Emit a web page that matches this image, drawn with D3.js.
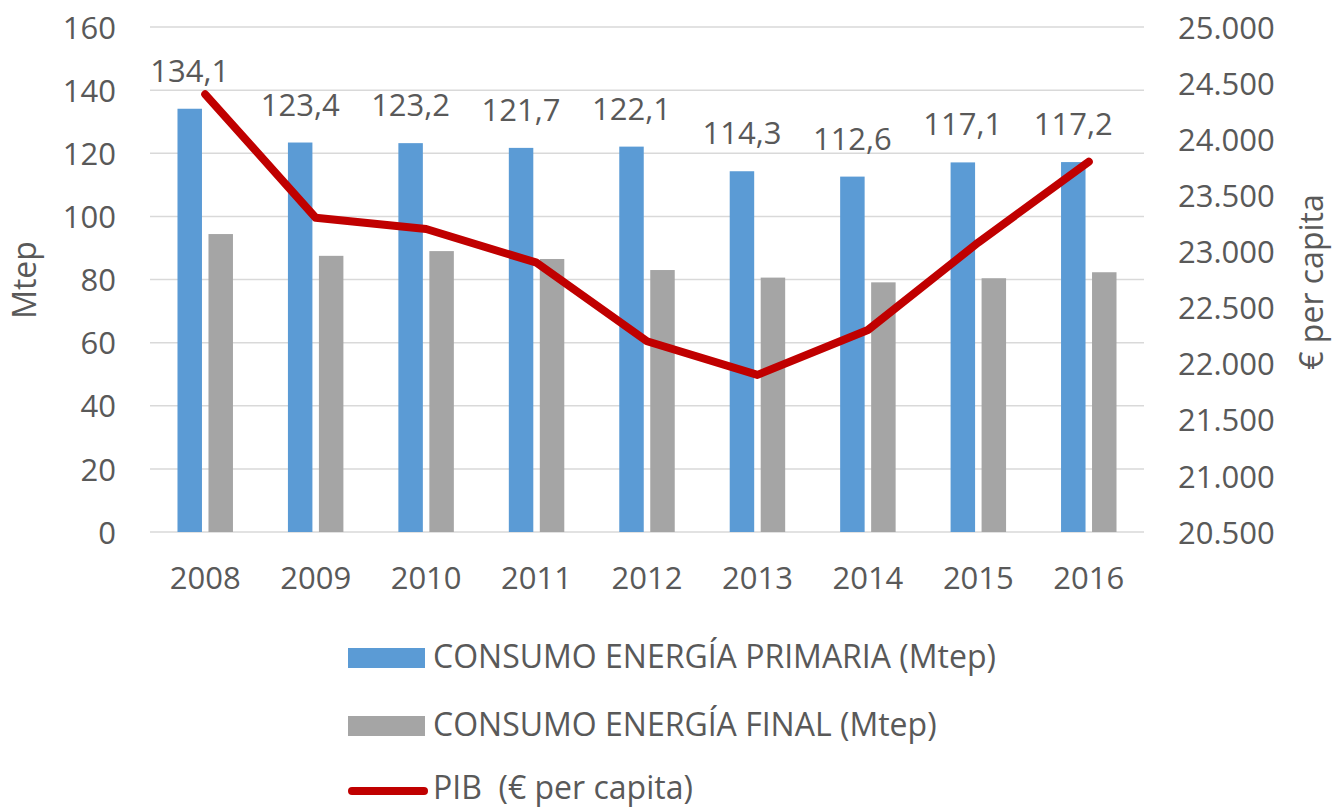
<!DOCTYPE html>
<html><head><meta charset="utf-8">
<script src="https://cdn.jsdelivr.net/npm/d3@7"></script>
<style>body{margin:0;background:#fff}svg{display:block}text{font-family:"Open Sans",sans-serif;fill:#595959}</style>
</head><body>
<svg id="c" width="1335" height="808"></svg>
<script>
const years = ["2008","2009","2010","2011","2012","2013","2014","2015","2016"];
const primaria = [134.1,123.4,123.2,121.7,122.1,114.3,112.6,117.1,117.2];
const finalE = [94.4,87.5,89.0,86.5,83.0,80.6,79.1,80.4,82.3];
const pib = [24400,23300,23200,22900,22200,21900,22300,23080,23800];
const leftTicks = [0,20,40,60,80,100,120,140,160];
const rightTicks = [20500,21000,21500,22000,22500,23000,23500,24000,24500,25000];
const seriesNames = ["CONSUMO ENERGÍA PRIMARIA (Mtep)","CONSUMO ENERGÍA FINAL (Mtep)","PIB  (€ per capita)"];
const colors = ["#5B9BD5","#A5A5A5","#C00000"];

const svg = d3.select("#c");
const X0=150, X1=1144, Y0=27, Y1=532;
const FS = "31px";
const x = d3.scaleBand().domain(years).range([X0,X1]).padding(0);
const xi = d3.scaleBand().domain(["p","f"]).range([0,x.bandwidth()]).paddingInner(0.21).paddingOuter(0.887);
const y = d3.scaleLinear().domain([0,160]).range([Y1,Y0]);
const y2 = d3.scaleLinear().domain([20500,25000]).range([Y1,Y0]);

// gridlines
svg.append("g").selectAll("line").data(leftTicks).join("line")
  .attr("x1",X0).attr("x2",X1).attr("y1",d=>y(d)).attr("y2",d=>y(d))
  .attr("stroke","#D9D9D9").attr("stroke-width",1.5);

// left axis
const la = svg.append("g").attr("transform",`translate(${X0-34},0)`)
  .call(d3.axisLeft(y).tickValues(leftTicks).tickSize(0).tickPadding(0));
la.select(".domain").remove();
la.selectAll("text").style("font-size",FS).attr("fill","#595959").attr("dy","0.36em");

// right axis
const fmt = d => d3.format(",")(d).replace(/,/g,".");
const ra = svg.append("g").attr("transform",`translate(${X1+34},0)`)
  .call(d3.axisRight(y2).tickValues(rightTicks).tickFormat(fmt).tickSize(0).tickPadding(0));
ra.select(".domain").remove();
ra.selectAll("text").style("font-size",FS).attr("fill","#595959").attr("dy","0.36em");

// x axis
const xa = svg.append("g").attr("transform",`translate(0,${Y1})`)
  .call(d3.axisBottom(x).tickSize(0).tickPadding(0));
xa.select(".domain").remove();
xa.selectAll("text").style("font-size",FS).attr("fill","#595959").attr("y",57).attr("dy",0);

// bars
const g = svg.append("g");
g.selectAll("rect.p").data(years).join("rect").attr("class","p")
  .attr("x",(d)=>x(d)+xi("p")).attr("width",xi.bandwidth())
  .attr("y",(d,i)=>y(primaria[i])).attr("height",(d,i)=>y(0)-y(primaria[i]))
  .attr("fill",colors[0]);
g.selectAll("rect.f").data(years).join("rect").attr("class","f")
  .attr("x",(d)=>x(d)+xi("f")).attr("width",xi.bandwidth())
  .attr("y",(d,i)=>y(finalE[i])).attr("height",(d,i)=>y(0)-y(finalE[i]))
  .attr("fill",colors[1]);

// labels
g.selectAll("text.lab").data(years).join("text").attr("class","lab")
  .attr("x",d=>x(d)+xi("p")+xi.bandwidth()/2)
  .attr("y",(d,i)=>y(primaria[i])-27)
  .attr("text-anchor","middle").style("font-size",FS)
  .text((d,i)=>d3.format(".1f")(primaria[i]).replace(".",","));

// line
const line = d3.line().x((d,i)=>x(years[i])+x.bandwidth()/2).y(d=>y2(d));
svg.append("path").datum(pib).attr("d",line).attr("fill","none")
  .attr("stroke",colors[2]).attr("stroke-width",8).attr("stroke-linecap","round").attr("stroke-linejoin","round");

// axis titles
svg.append("text").attr("transform","translate(36,280) rotate(-90)").attr("text-anchor","middle")
  .style("font-size","32px").text("Mtep");
svg.append("text").attr("transform","translate(1323,282) rotate(-90)").attr("text-anchor","middle")
  .style("font-size","32px").text("€ per capita");

// legend
const lg = svg.append("g");
const base = [668,736,799];
lg.append("rect").attr("x",348).attr("y",648).attr("width",77).attr("height",20).attr("fill",colors[0]);
lg.append("rect").attr("x",348).attr("y",716).attr("width",77).attr("height",20).attr("fill",colors[1]);
lg.append("line").attr("x1",352).attr("x2",424).attr("y1",791).attr("y2",791)
  .attr("stroke",colors[2]).attr("stroke-width",8).attr("stroke-linecap","round");
lg.selectAll("text").data(seriesNames).join("text")
  .attr("x",433).attr("y",(d,i)=>base[i]).style("font-size","32px").style("white-space","pre").text(d=>d);
</script>
</body></html>
